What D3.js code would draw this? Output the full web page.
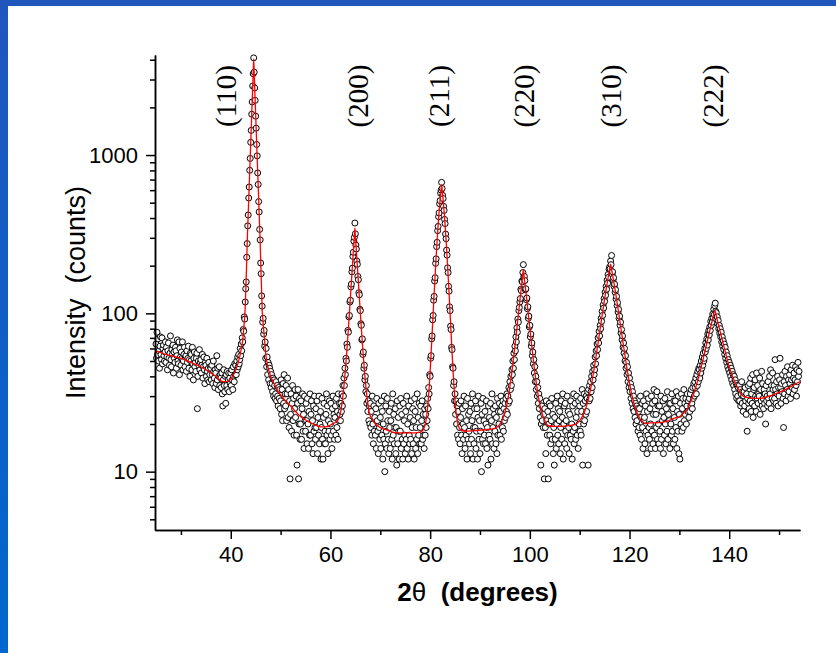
<!DOCTYPE html>
<html>
<head>
<meta charset="utf-8">
<script src="https://cdn.jsdelivr.net/npm/d3@7"></script>
<style>
    html, body { margin: 0; padding: 0; }
    body { width: 836px; height: 653px; overflow: hidden; background: linear-gradient(#1f56bd, #0067ce); }
    #dataChart { position: absolute; left: 0; top: 0; }
</style>
</head>
<body>
<div id="dataChart"></div>
<script>
// XRD scan: counts every 0.1 deg from 25.0 deg
const thetaStart = 25.0
const thetaStep = 0.1
const counts = [
    64, 52, 76, 55, 69, 50, 58, 45, 62, 71,
    55, 51, 70, 48, 60, 63, 54, 50, 57, 66,
    49, 61, 53, 44, 58, 65, 52, 47, 56, 72,
    51, 46, 59, 55, 63, 42, 57, 52, 49, 61,
    58, 45, 54, 68, 50, 48, 66, 41, 60, 53,
    47, 57, 52, 66, 44, 50, 55, 61, 46, 53,
    54, 43, 58, 49, 52, 62, 45, 51, 40, 56,
    50, 55, 44, 61, 48, 38, 52, 57, 46, 49,
    43, 52, 56, 25, 40, 50, 47, 59, 44, 49,
    51, 42, 47, 55, 39, 46, 53, 44, 36, 49,
    47, 40, 52, 43, 38, 45, 49, 37, 41, 46,
    45, 38, 47, 41, 36, 50, 43, 39, 34, 44,
    42, 36, 54, 38, 45, 33, 40, 46, 35, 41,
    39, 34, 42, 31, 26, 38, 44, 35, 32, 40,
    27, 41, 35, 43, 33, 38, 42, 32, 39, 36,
    42, 35, 44, 38, 33, 46, 40, 37, 48, 41,
    47, 41, 50, 44, 53, 46, 55, 48, 51, 60,
    54, 64, 58, 70, 66, 79, 77, 95, 92, 118,
    143, 158, 226, 276, 357, 418, 535, 628, 801, 952,
    1203, 1431, 1810, 2164, 2731, 3262, 4110, 3340, 2655, 2215,
    1760, 1478, 1166, 988, 771, 652, 508, 437, 339, 291,
    208, 178, 129, 111, 88, 93, 74, 78, 62, 66,
    52, 60, 46, 53, 41, 49, 38, 47, 45, 36,
    43, 34, 41, 36, 32, 39, 30, 38, 35, 29,
    31, 37, 28, 35, 30, 26, 34, 29, 33, 25,
    28, 38, 23, 33, 21, 36, 27, 41, 25, 31,
    26, 35, 21, 31, 39, 22, 33, 19, 28, 9,
    23, 31, 18, 27, 35, 21, 29, 17, 25, 33,
    22, 30, 17, 11, 27, 33, 9, 20, 29, 16,
    20, 28, 16, 25, 31, 18, 23, 14, 30, 21,
    18, 27, 21, 15, 29, 20, 14, 24, 17, 31,
    17, 23, 28, 15, 21, 13, 26, 18, 30, 19,
    16, 25, 19, 28, 13, 22, 17, 30, 15, 20,
    24, 12, 19, 29, 16, 12, 22, 27, 15, 18,
    15, 23, 31, 17, 26, 13, 21, 18, 28, 16,
    20, 27, 17, 14, 25, 30, 18, 23, 16, 22,
    26, 17, 29, 19, 24, 16, 31, 21, 27, 23,
    21, 27, 24, 31, 26, 35, 30, 39, 35, 45,
    41, 52, 50, 64, 61, 78, 76, 95, 97, 118,
    121, 147, 153, 183, 193, 229, 243, 286, 302, 372,
    318, 270, 255, 214, 204, 171, 163, 135, 131, 106,
    104, 86, 84, 68, 69, 55, 57, 45, 47, 38,
    40, 32, 35, 27, 31, 24, 28, 21, 26, 20,
    27, 19, 24, 17, 30, 20, 15, 26, 18, 22,
    17, 25, 14, 29, 21, 18, 13, 27, 19, 16,
    22, 14, 28, 17, 24, 12, 20, 16, 30, 10,
    15, 26, 18, 14, 29, 21, 16, 13, 24, 19,
    14, 21, 27, 16, 12, 31, 17, 23, 15, 19,
    25, 13, 19, 11, 28, 15, 22, 18, 12, 26,
    18, 29, 14, 23, 16, 12, 27, 15, 21, 17,
    13, 24, 16, 30, 14, 20, 12, 26, 17, 15,
    22, 16, 28, 13, 19, 25, 15, 21, 12, 29,
    24, 14, 19, 16, 31, 13, 22, 17, 27, 15,
    19, 26, 15, 21, 28, 16, 23, 17, 14, 25,
    17, 23, 19, 26, 21, 29, 25, 34, 31, 41,
    40, 52, 54, 69, 72, 91, 97, 121, 128, 160,
    168, 207, 221, 264, 281, 333, 354, 408, 431, 492,
    515, 574, 601, 672, 615, 557, 531, 474, 447, 392,
    369, 317, 296, 251, 233, 194, 181, 148, 138, 110,
    104, 83, 79, 61, 59, 46, 45, 35, 37, 28,
    31, 23, 28, 20, 26, 17, 24, 16, 27, 19,
    15, 22, 28, 17, 13, 25, 20, 16, 30, 19,
    14, 26, 17, 21, 12, 29, 16, 23, 18, 15,
    24, 13, 27, 16, 21, 31, 12, 19, 15, 25,
    19, 28, 14, 18, 25, 12, 22, 30, 16, 21,
    13, 18, 27, 10, 23, 16, 29, 15, 21, 17,
    24, 15, 20, 28, 14, 19, 11, 26, 17, 22,
    16, 27, 12, 21, 31, 15, 19, 25, 14, 23,
    18, 26, 15, 22, 13, 29, 17, 24, 20, 27,
    17, 24, 30, 16, 26, 19, 28, 18, 25, 21,
    27, 22, 29, 24, 31, 23, 30, 27, 34, 28,
    37, 33, 40, 35, 44, 41, 50, 45, 56, 51,
    62, 58, 71, 66, 81, 76, 92, 88, 104, 109,
    118, 124, 142, 139, 160, 158, 181, 203, 170, 171,
    161, 141, 143, 122, 125, 107, 110, 93, 96, 82,
    84, 71, 74, 62, 65, 54, 57, 48, 51, 42,
    46, 37, 40, 33, 37, 30, 34, 27, 31, 25,
    29, 22, 11, 20, 26, 21, 24, 19, 23, 9,
    25, 19, 13, 28, 21, 17, 24, 9, 20, 27,
    17, 26, 15, 21, 29, 16, 23, 13, 19, 11,
    22, 16, 27, 14, 20, 30, 17, 25, 15, 21,
    24, 13, 19, 28, 16, 22, 31, 12, 20, 26,
    15, 27, 18, 21, 14, 30, 17, 24, 19, 13,
    23, 17, 28, 16, 20, 12, 26, 18, 31, 15,
    19, 27, 16, 22, 30, 17, 24, 14, 28, 20,
    26, 18, 29, 17, 24, 33, 11, 27, 20, 31,
    21, 28, 23, 30, 24, 29, 32, 11, 33, 28,
    35, 29, 37, 32, 40, 34, 43, 38, 47, 41,
    44, 53, 48, 58, 54, 64, 59, 70, 65, 77,
    72, 84, 80, 93, 89, 103, 97, 113, 108, 124,
    119, 136, 130, 148, 142, 162, 155, 176, 169, 190,
    196, 191, 214, 203, 232, 177, 183, 163, 168, 148,
    153, 136, 141, 123, 128, 112, 117, 102, 106, 93,
    96, 84, 88, 75, 79, 68, 72, 61, 65, 56,
    60, 50, 54, 45, 49, 41, 46, 37, 42, 34,
    39, 32, 36, 29, 34, 27, 32, 25, 30, 24,
    28, 22, 27, 20, 26, 21, 25, 18, 24, 19,
    25, 17, 30, 22, 16, 27, 19, 14, 28, 21,
    22, 15, 26, 18, 31, 13, 24, 17, 29, 19,
    16, 25, 20, 14, 30, 18, 27, 15, 23, 33,
    17, 28, 14, 23, 19, 32, 16, 26, 20, 15,
    26, 18, 14, 30, 16, 24, 21, 28, 13, 22,
    17, 29, 20, 15, 25, 18, 32, 16, 23, 27,
    21, 14, 27, 20, 17, 31, 18, 25, 15, 28,
    22, 16, 28, 19, 32, 14, 24, 18, 30, 13,
    23, 12, 27, 20, 31, 18, 25, 29, 19, 33,
    21, 27, 23, 29, 20, 26, 31, 24, 28, 22,
    29, 24, 31, 26, 33, 27, 25, 34, 29, 36,
    30, 37, 34, 39, 31, 41, 35, 43, 37, 45,
    44, 39, 47, 42, 50, 45, 53, 47, 56, 50,
    52, 60, 57, 65, 60, 69, 63, 74, 68, 78,
    73, 82, 78, 89, 84, 93, 88, 99, 94, 106,
    98, 112, 116, 103, 101, 91, 95, 86, 90, 80,
    84, 75, 80, 71, 76, 66, 71, 62, 67, 59,
    64, 55, 61, 52, 57, 49, 54, 46, 51, 44,
    49, 42, 47, 40, 45, 38, 43, 36, 41, 35,
    40, 33, 38, 31, 36, 29, 35, 30, 34, 28,
    35, 28, 33, 26, 31, 37, 27, 32, 24, 30,
    32, 26, 34, 28, 23, 31, 18, 29, 35, 27,
    25, 36, 28, 39, 24, 31, 27, 41, 22, 33,
    34, 26, 38, 30, 24, 42, 29, 35, 27, 31,
    30, 39, 23, 33, 28, 43, 26, 36, 29, 25,
    33, 27, 31, 20, 35, 28, 30, 26, 37, 29,
    27, 40, 31, 44, 25, 35, 29, 42, 33, 28,
    35, 29, 51, 33, 27, 37, 31, 40, 26, 34,
    30, 38, 52, 34, 27, 36, 32, 41, 29, 19,
    37, 31, 43, 35, 28, 40, 33, 46, 30, 38,
    32, 41, 36, 29, 44, 38, 34, 47, 31, 39,
    42, 33, 38, 46, 35, 30, 44, 37, 49, 40,
    43
]

// fitted profile (red line)
const fitTheta = [
    25, 26, 27, 28, 29, 30, 31, 32, 33, 34, 35, 36, 37, 38,
    38.5, 39, 39.5, 40, 40.5, 41, 41.5, 42,
    42.2, 42.4, 42.6, 42.8, 42.9,
    43, 43.1, 43.2, 43.3, 43.4, 43.5, 43.6, 43.7, 43.8, 43.9,
    44, 44.1, 44.2, 44.3, 44.4, 44.5, 44.6, 44.7, 44.8, 44.9,
    45, 45.1, 45.2, 45.3, 45.4, 45.5, 45.6, 45.7, 45.8, 45.9,
    46, 46.1, 46.2, 46.3, 46.4, 46.5, 46.6, 46.7, 46.8, 46.9,
    47, 47.2, 47.4, 47.6, 47.8, 48,
    48.5, 49, 49.5, 50,
    51, 52, 53, 54, 55, 56, 57, 58, 59, 60,
    60.5, 61, 61.5, 62,
    62.2, 62.4, 62.6, 62.8, 63, 63.2, 63.4, 63.6, 63.8, 64, 64.2, 64.4, 64.6, 64.8,
    64.9,
    65, 65.2, 65.4, 65.6, 65.8, 66, 66.2, 66.4, 66.6, 66.8, 67, 67.2, 67.4, 67.6, 67.8, 68,
    68.5, 69, 70, 71, 72, 73, 75, 77, 78, 78.5,
    79, 79.2, 79.4, 79.6, 79.8, 80, 80.2, 80.4, 80.6, 80.8, 81, 81.2, 81.4, 81.6, 81.8, 82, 82.2,
    82.3,
    82.4, 82.6, 82.8, 83, 83.2, 83.4, 83.6, 83.8, 84, 84.2, 84.4, 84.6, 84.8, 85, 85.2, 85.4, 85.6,
    86, 87, 89, 91, 93,
    93.7, 94.2, 94.7, 95, 95.5, 96, 96.4, 96.8,
    97, 97.2, 97.4, 97.6, 97.8, 98, 98.2, 98.4, 98.6,
    98.7,
    98.8, 99, 99.2, 99.4, 99.6, 99.8, 100, 100.2, 100.4, 100.6,
    101, 101.4, 101.9, 102.4, 103, 103.7, 105, 107, 109, 110, 110.6, 111, 111.4, 111.8, 112.2,
    112.4, 112.6, 112.8, 113, 113.2, 113.4, 113.6, 113.8, 114, 114.2,
    114.4, 114.6, 114.8, 115, 115.2, 115.4, 115.6, 115.8, 116, 116.2,
    116.4, 116.6, 116.8, 117, 117.2, 117.4, 117.6, 117.8, 118, 118.2,
    118.4, 118.6, 118.8, 119, 119.2, 119.4, 119.6, 119.8, 120, 120.2,
    120.6, 121, 121.4, 121.8, 122.2, 122.7, 123.2, 124, 126, 127, 128, 129, 130, 131,
    131.6, 132, 132.4, 132.8, 133.2, 133.6, 133.9,
    134.3, 134.7, 135.1, 135.5, 135.9, 136.3, 136.7, 137.1, 137.5, 137.9,
    138.3, 138.7, 139.1, 139.5, 139.9, 140.3, 140.7, 141.1, 141.5, 141.9,
    142.4, 143, 144, 145, 146, 147, 148, 149, 150, 151, 152, 153, 154,
    154.2
]
const fitCounts = [
    58, 56.5, 55, 54, 53, 52, 50.5, 49, 47.5, 46, 44, 42, 40, 37.5,
    37, 37, 37.6, 38.5, 40.5, 44, 49, 57,
    62, 68, 80, 96, 110,
    135, 170, 215, 282, 346, 425, 521, 640, 786, 965,
    1184, 1455, 1785, 2190, 2690, 3300, 4050, 3300, 2690, 2190,
    1785, 1455, 1184, 965, 786, 640, 521, 425, 346, 282,
    215, 170, 135, 105, 95, 86, 79, 73, 67, 61,
    56, 50.5, 46.5, 44, 42, 40,
    37, 34.5, 32, 30.5,
    28, 26, 24, 22.3, 21.2, 20.4, 19.7, 19.2, 19.2, 19.7,
    20.1, 20.5, 21.2, 23.4,
    25.5, 28.3, 32.2, 37.4, 44.3, 53.4, 65, 80.6, 100, 126, 158, 198, 248, 309,
    345,
    309, 248, 198, 158, 126, 100, 80.6, 65, 53.4, 44.3, 37.4, 32.2, 28.3, 25.5, 23.4, 22.5,
    21, 20, 19, 18.5, 18, 17.6, 17.6, 17.6, 17.8, 18.2,
    19.8, 21.3, 23.8, 27.9, 34, 43.2, 56.5, 75, 100, 133, 175, 227, 289, 361, 440, 523, 608,
    650,
    608, 523, 440, 361, 289, 227, 175, 133, 100, 75, 56.5, 43.2, 34, 27.9, 23.8, 21.3, 19.8,
    18.5, 18, 18.2, 18.4, 18.8,
    19.5, 20.4, 22.1, 23.7, 27.7, 34.5, 42.6, 54.2,
    61.6, 70.2, 80.2, 91.6, 105, 120, 137, 156, 177,
    188.5,
    177, 156, 137, 120, 105, 91.6, 80.2, 70.2, 61.6, 54.2,
    42.6, 34.5, 27.7, 23.7, 21, 19.5, 19.3, 19.4, 19.8, 21, 22.5, 24, 26.2, 29.3, 33.5,
    36.2, 39.2, 42.7, 46.7, 51.3, 56.5, 62.2, 68.5, 75.7, 83.7,
    92.4, 101.8, 112, 123, 135, 147.5, 161, 175, 189, 204.5,
    189, 175, 161, 147.5, 135, 123, 112, 101.8, 92.4, 83.7,
    75.7, 68.5, 62.2, 56.5, 51.3, 46.7, 42.7, 39.2, 36.2, 33.5,
    29.3, 26.2, 24, 22.5, 21.4, 20.6, 20.1, 20.3, 20.4, 20.6, 21.1, 21.8, 22.2, 23.7,
    24.8, 26.6, 28.3, 30.6, 33.5, 36.8, 39.7,
    44.8, 50.3, 57.2, 64.6, 73, 82.7, 92.8, 104, 93.2, 83.1,
    74.3, 65.9, 59, 52.5, 47, 43, 39.6, 36.7, 34.9, 33.1,
    30.9, 29.8, 29.3, 29, 29, 29.3, 30, 30.8, 31.7, 32.7, 34, 35.3, 36.8,
    37
]

const peakNames = ['(110)', '(200)', '(211)', '(220)', '(310)', '(222)']
const peakLabelTheta = [40.0, 66.5, 82.7, 99.8, 117.2, 137.8]

const xMajorTicks = [40, 60, 80, 100, 120, 140]
const xMinorTicks = [30, 50, 70, 90, 110, 130, 150]
const yMajorTicks = [10, 100, 1000]
const yMinorTicks = [5, 6, 7, 8, 9, 20, 30, 40, 50, 60, 70, 80, 90,
    200, 300, 400, 500, 600, 700, 800, 900, 2000, 3000, 4000]

document.addEventListener('DOMContentLoaded', () => {
    const viewBoxWidth = 836
    const viewBoxHeight = 653
    const plotLeft = 155
    const plotRight = 800
    const plotTop = 55
    const plotBottom = 530
    const sansFont = "Arial, 'Liberation Sans', sans-serif"

    const svg = d3.select('#dataChart')
        .append('svg')
        .attr('width', viewBoxWidth)
        .attr('height', viewBoxHeight)

    // white sheet over the blue frame
    svg.append('rect')
        .attr('x', 8)
        .attr('y', 6)
        .attr('width', viewBoxWidth - 8)
        .attr('height', viewBoxHeight - 6)
        .attr('fill', '#ffffff')

    const x = d3.scaleLinear()
        .domain([24.8, 154.2])
        .range([plotLeft, plotRight])
    const y = d3.scaleLog()
        .domain([4.28, 4285])
        .range([plotBottom, plotTop])

    const points = counts.map((c, i) => ({ theta: thetaStart + i * thetaStep, counts: c }))
    const fit = fitTheta.map((t, i) => [t, fitCounts[i]])

    // data points
    svg.append('g')
        .attr('id', 'chart-plot')
        .selectAll('circle')
        .data(points)
        .enter()
        .append('circle')
        .attr('cx', d => x(d.theta))
        .attr('cy', d => y(d.counts))
        .attr('r', 3)
        .attr('fill', '#ffffff')
        .attr('stroke', '#000000')
        .attr('stroke-width', 1)

    // fit
    svg.append('path')
        .datum(fit)
        .attr('fill', 'none')
        .attr('stroke', '#ff0000')
        .attr('stroke-width', 1.3)
        .attr('d', d3.line()
            .x(d => x(d[0]))
            .y(d => y(d[1]))
            .curve(d3.curveMonotoneX))

    // axes
    const styleAxis = g => {
        g.selectAll('.domain, .tick line')
            .attr('stroke', '#000000')
            .attr('stroke-width', 1.5)
        g.selectAll('text')
            .attr('fill', '#000000')
            .attr('font-family', sansFont)
            .attr('font-size', 22)
    }
    svg.append('g')
        .attr('transform', `translate(0, ${plotBottom})`)
        .call(d3.axisBottom(x).tickValues(xMinorTicks).tickSize(5).tickSizeOuter(0).tickFormat(''))
        .call(styleAxis)
    svg.append('g')
        .attr('transform', `translate(0, ${plotBottom})`)
        .call(d3.axisBottom(x).tickValues(xMajorTicks).tickSize(9).tickSizeOuter(0).tickPadding(7))
        .call(styleAxis)
    svg.append('g')
        .attr('transform', `translate(${plotLeft}, 0)`)
        .call(d3.axisLeft(y).tickValues(yMinorTicks).tickSize(5).tickSizeOuter(0).tickFormat(''))
        .call(styleAxis)
    svg.append('g')
        .attr('transform', `translate(${plotLeft}, 0)`)
        .call(d3.axisLeft(y).tickValues(yMajorTicks).tickSize(9).tickSizeOuter(0).tickPadding(8).tickFormat(d3.format('d')))
        .call(styleAxis)

    // axis titles
    const xTitle = svg.append('text')
        .attr('x', (plotLeft + plotRight) / 2)
        .attr('y', 601)
        .attr('text-anchor', 'middle')
        .attr('font-family', sansFont)
        .attr('font-size', 26)
        .attr('font-weight', 'bold')
        .attr('fill', '#000000')
    xTitle.append('tspan').text('2')
    xTitle.append('tspan').attr('font-weight', 'normal').text('θ')
    xTitle.append('tspan').attr('xml:space', 'preserve').text('  (degrees)')

    svg.append('text')
        .attr('transform', `translate(85, ${(plotTop + plotBottom) / 2}) rotate(-90)`)
        .attr('text-anchor', 'middle')
        .attr('font-family', sansFont)
        .attr('font-size', 27)
        .attr('fill', '#000000')
        .attr('xml:space', 'preserve')
        .text('Intensity  (counts)')

    // reflection labels
    svg.append('g')
        .selectAll('text')
        .data(peakNames)
        .enter()
        .append('text')
        .attr('transform', (d, i) => `translate(${x(peakLabelTheta[i]) + 5}, 96) rotate(-90)`)
        .attr('text-anchor', 'middle')
        .attr('font-family', "'Times New Roman', 'Liberation Serif', serif")
        .attr('font-size', 29)
        .attr('fill', '#000000')
        .text(d => d)
})
</script>
</body>
</html>
